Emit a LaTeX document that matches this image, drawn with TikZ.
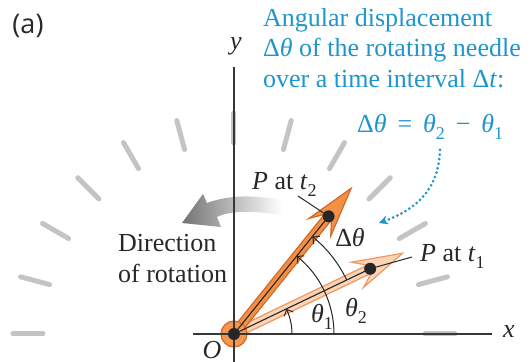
\RequirePackage{fix-cm}
\documentclass[tikz,border=0pt]{standalone}
\usepackage{fontspec}
\setmainfont{Liberation Serif}
\newfontfamily\labelsans{Open Sans}
\usetikzlibrary{arrows.meta}
\newcommand\vi[1]{\textit{#1}}
\newcommand\subs[1]{\raisebox{-0.24em}{\fontsize{18}{18}\selectfont #1}}
\newcommand\gap{\hspace{0.42em}}
\definecolor{txtblue}{RGB}{30,150,205}
\definecolor{txtdark}{RGB}{40,40,40}
\definecolor{tickgray}{RGB}{196,196,196}
\definecolor{axisgray}{RGB}{55,55,55}
\definecolor{needleA}{RGB}{242,145,70}
\definecolor{needleAedge}{RGB}{212,104,40}
\definecolor{needleB}{RGB}{252,212,182}
\definecolor{needleBedge}{RGB}{238,152,96}
\definecolor{originfill}{RGB}{242,150,80}
\tikzset{
  lbl/.style={inner sep=0pt, text=txtdark},
  bluelbl/.style={inner sep=0pt, text=txtblue, anchor=base west},
  tickmark/.style={draw=tickgray, line width=5pt, line cap=round},
  axisline/.style={draw=axisgray, line width=1.3pt},
  dotnode/.style={circle, fill=black!85, inner sep=0pt, minimum size=12pt},
  innerline/.style={draw=black!85, line width=1.1pt},
  anglearc/.style={draw=black!85, line width=1pt, -{Straight Barb[length=5pt,width=10pt]}},
  leader/.style={draw=black!85, line width=1pt},
  needleAstyle/.style={fill=needleA, draw=needleAedge, line width=1.2pt, line join=miter},
  needleBstyle/.style={fill=needleB, draw=needleBedge, line width=1.2pt, line join=miter},
}
\begin{document}
\begin{tikzpicture}[x=1pt, y=1pt, font=\fontsize{26}{31}\selectfont]
\useasboundingbox (-234,-28) rectangle (297,334);

% tick marks
\foreach \a in {0,15,...,180}
  \draw[tickmark] (\a:191) -- (\a:221);

% gray direction-of-rotation arrow
\shade[left color=black!55, right color=white]
  (48,134) .. controls (15,140) and (-8,138) .. (-27,131)
  -- (-31,140) -- (-52,111) -- (-13,107) -- (-17,117)
  .. controls (-3,124) and (20,123) .. (48,119) -- cycle;

% needle at t1
\begin{scope}[rotate=25.6]
  \filldraw[needleBstyle] (0,-4.5) -- (150,-4.5) -- (137,-14) -- (187,0)
    -- (137,14) -- (150,4.5) -- (0,4.5) -- cycle;
\end{scope}
% needle at t2
\begin{scope}[rotate=51.2]
  \filldraw[needleAstyle] (0,-4.5) -- (150,-4.5) -- (137,-14) -- (187,0)
    -- (137,14) -- (150,4.5) -- (0,4.5) -- cycle;
\end{scope}

% origin disc
\node[circle, fill=originfill, draw=needleAedge, line width=1.2pt, minimum size=26pt, inner sep=0pt] (O) at (0,0) {};

% axes
\coordinate (xl) at (-41,0);
\coordinate (xr) at (258,0);
\coordinate (yb) at (0,-28);
\coordinate (yt) at (0,267);
\draw[axisline] (xl) -- (xr);
\draw[axisline] (yb) -- (yt);

% points
\node[dotnode] (Oc) at (0,0) {};
\node[dotnode] (P1) at (25.6:151) {};
\node[dotnode] (P2) at (51.2:151) {};
\draw[innerline] (Oc.center) -- (P1.center);
\draw[innerline] (Oc.center) -- (P2.center);

% angle arcs
\draw[anglearc] (58,0) arc[start angle=0, end angle=25.6, radius=58];
\draw[anglearc] (100,0) arc[start angle=0, end angle=51.2, radius=100];
\draw[anglearc] (25.6:125) arc[start angle=25.6, end angle=51.2, radius=125];

% labels
\node[lbl] (xlab) at (275,2) {\vi{x}};
\node[lbl] (ylab) at (2,288) {\vi{y}};
\node[lbl] (Olab) at (-22,-16) {\vi{O}};
\node[inner sep=0pt, text=txtdark, font=\labelsans\fontsize{27}{30}\selectfont] (alab) at (-206,308) {(a)};
\node[lbl] (th1) at (88,17) {\vi{θ}\subs{1}};
\node[lbl] (th2) at (122,23) {\vi{θ}\subs{2}};
\node[lbl] (dth) at (116,96) {Δ\vi{θ}};

\node[lbl, anchor=base west] (Pt2) at (18,144) {\vi{P} at \vi{t}\subs{2}};
\node[lbl, anchor=base west] (Pt1) at (186,72) {\vi{P} at \vi{t}\subs{1}};
\coordinate (L2) at (64,138);
\coordinate (L1) at (178,77);
\draw[leader] (L2) -- (P2);
\draw[leader] (P1) -- (L1);

\node[lbl, anchor=base west] (dir1) at (-116,82) {Direction};
\node[lbl, anchor=base west] (dir2) at (-116,51) {of rotation};

% blue annotation
\node[bluelbl] (b1) at (29,307) {Angular displacement};
\node[bluelbl] (b2) at (29,277) {Δ\vi{θ} of the rotating needle};
\node[bluelbl] (b3) at (29,246) {over a time interval Δ\vi{t}:};
\node[bluelbl] (b4) at (123,201) {Δ\vi{θ}\gap=\gap\vi{θ}\subs{2}\gap−\gap\vi{θ}\subs{1}};

\coordinate (ds) at (206,184);
\coordinate (de) at (145,111);
\draw[draw=txtblue, line width=3pt, line cap=round, dash pattern=on 0pt off 4.6pt,
      -{Stealth[length=9pt, width=9pt, line width=0.5pt]}]
  (ds) .. controls (205,144) and (181,124) .. (de);
\end{tikzpicture}
\end{document}
